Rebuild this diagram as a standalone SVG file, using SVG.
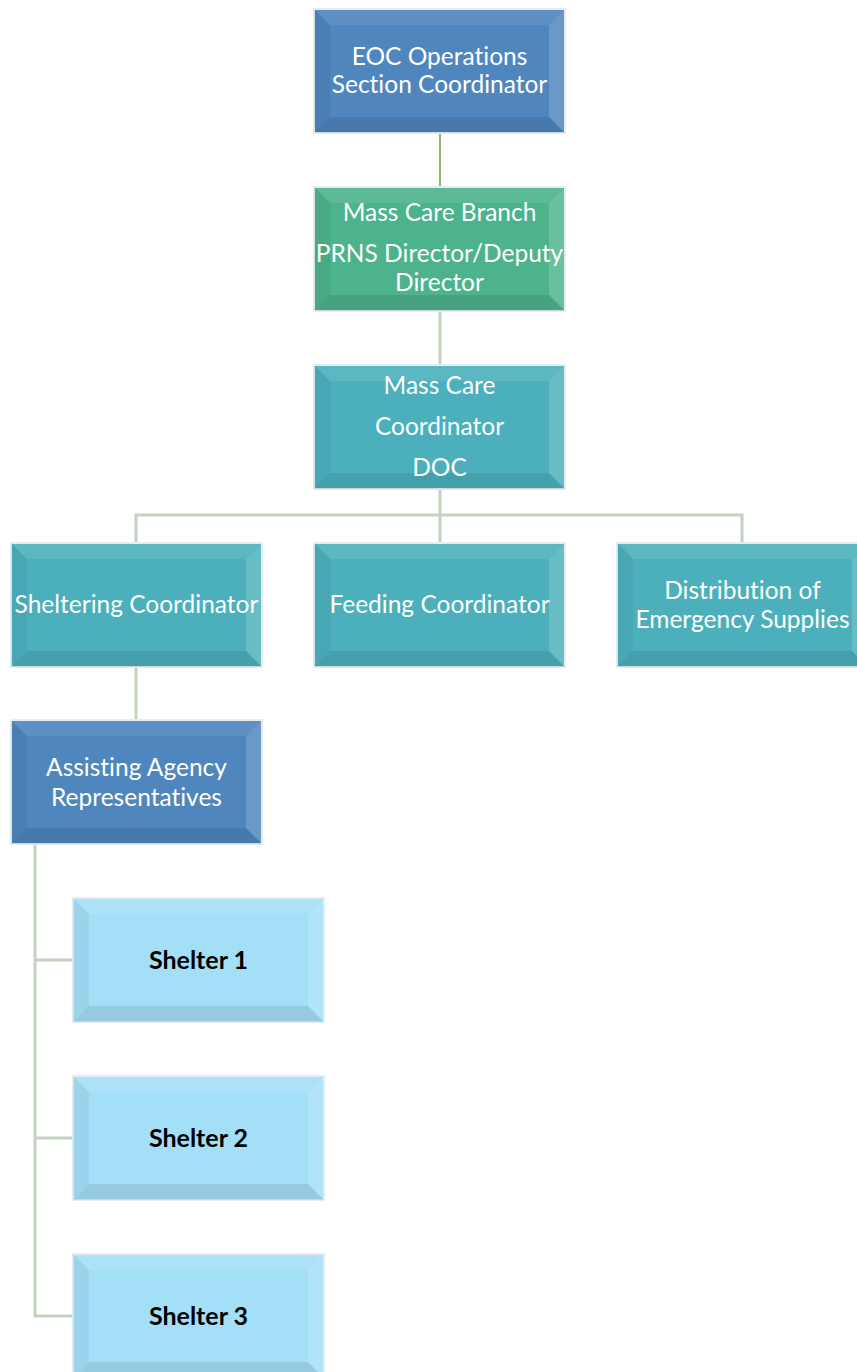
<svg xmlns="http://www.w3.org/2000/svg" width="857" height="1372" viewBox="0 0 857 1372">
<style>
.edge{fill:none;stroke:#c3d2bf;stroke-width:3}
.edge1{fill:none;stroke:#8dbb70;stroke-width:2}
.box{stroke:#e2ecf2;stroke-width:2}
.blue{fill:#4f86bd}
.green{fill:#4db38c}
.teal{fill:#4bb0bc}
.light{fill:#a4dff8}
.bt{fill:#ffffff;opacity:.09}
.br{fill:#ffffff;opacity:.16}
.bb{fill:#000000;opacity:.09}
.bl{fill:#000000;opacity:.05}
.t{font-family:Lato,"Liberation Sans",sans-serif;font-size:24.5px;fill:#ffffff;text-anchor:middle;font-variant-ligatures:none}
.s{font-family:Lato,"Liberation Sans",sans-serif;font-size:25px;font-weight:bold;fill:#000000;text-anchor:middle;font-variant-ligatures:none}
</style>
<defs>
<g id="bevel">
<polygon class="bt" points="0,0 251,0 235,16 16,16"/>
<polygon class="br" points="251,0 251,124 235,108 235,16"/>
<polygon class="bb" points="0,124 16,108 235,108 251,124"/>
<polygon class="bl" points="0,0 16,16 16,108 0,124"/>
</g>
</defs>
<g id="connectors">
<line class="edge1" x1="440" y1="133" x2="440" y2="187"/>
<line class="edge" x1="440" y1="311" x2="440" y2="365"/>
<line class="edge" x1="440" y1="489" x2="440" y2="543"/>
<polyline class="edge" points="136,543 136,515 742,515 742,543"/>
<line class="edge" x1="136" y1="667" x2="136" y2="720"/>
<polyline class="edge" points="35,844 35,1316 73,1316"/>
<line class="edge" x1="35" y1="960" x2="73" y2="960"/>
<line class="edge" x1="35" y1="1138" x2="73" y2="1138"/>
</g>
<g id="n-eoc" transform="translate(314,9)">
<rect class="box blue" width="251" height="124"/>
<use href="#bevel"/>
<text class="t" x="125.5" y="56">EOC Operations</text>
<text class="t" x="125.5" y="84">Section Coordinator</text>
</g>
<g id="n-branch" transform="translate(314,187)">
<rect class="box green" width="251" height="124"/>
<use href="#bevel"/>
<text class="t" x="125.5" y="34">Mass Care Branch</text>
<text class="t" x="125.5" y="75">PRNS Director/Deputy</text>
<text class="t" x="125.5" y="104">Director</text>
</g>
<g id="n-coord" transform="translate(314,365)">
<rect class="box teal" width="251" height="124"/>
<use href="#bevel"/>
<text class="t" x="125.5" y="29">Mass Care</text>
<text class="t" x="125.5" y="70">Coordinator</text>
<text class="t" x="125.5" y="111">DOC</text>
</g>
<g id="n-shelter-coord" transform="translate(11,543)">
<rect class="box teal" width="251" height="124"/>
<use href="#bevel"/>
<text class="t" x="125.5" y="70">Sheltering Coordinator</text>
</g>
<g id="n-feeding" transform="translate(314,543)">
<rect class="box teal" width="251" height="124"/>
<use href="#bevel"/>
<text class="t" x="125.5" y="70">Feeding Coordinator</text>
</g>
<g id="n-distribution" transform="translate(617,543)">
<rect class="box teal" width="251" height="124"/>
<use href="#bevel"/>
<text class="t" x="125.5" y="56">Distribution of</text>
<text class="t" x="125.5" y="85">Emergency Supplies</text>
</g>
<g id="n-assisting" transform="translate(11,720)">
<rect class="box blue" width="251" height="124"/>
<use href="#bevel"/>
<text class="t" x="125.5" y="56">Assisting Agency</text>
<text class="t" x="125.5" y="86">Representatives</text>
</g>
<g id="n-shelter1" transform="translate(73,898)">
<rect class="box light" width="251" height="124"/>
<use href="#bevel"/>
<text class="s" x="125.5" y="71">Shelter 1</text>
</g>
<g id="n-shelter2" transform="translate(73,1076)">
<rect class="box light" width="251" height="124"/>
<use href="#bevel"/>
<text class="s" x="125.5" y="71">Shelter 2</text>
</g>
<g id="n-shelter3" transform="translate(73,1254)">
<rect class="box light" width="251" height="124"/>
<use href="#bevel"/>
<text class="s" x="125.5" y="71">Shelter 3</text>
</g>
</svg>
